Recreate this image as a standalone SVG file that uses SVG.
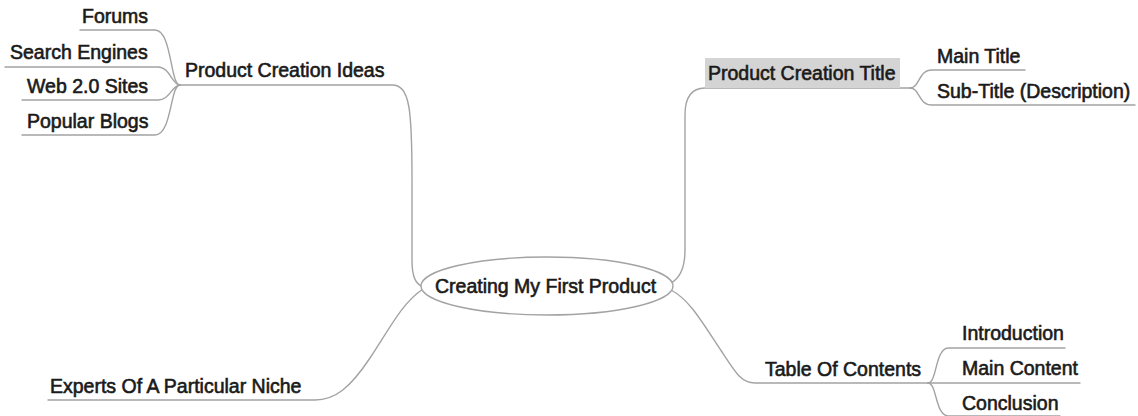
<svg xmlns="http://www.w3.org/2000/svg" width="1138" height="416" viewBox="0 0 1138 416">
  <style>
    .link { fill: none; stroke: #a3a3a3; stroke-width: 1.4; stroke-linecap: round; }
    .label { font-family: "Liberation Sans", Arial, sans-serif; font-size: 19.5px; fill: #1a1a1a; stroke: #1a1a1a; stroke-width: 0.6; }
  </style>
  <rect width="1138" height="416" fill="#ffffff"/>

  <!-- connectors -->
  <g id="connectors">
    <!-- Product Creation Ideas and its children -->
    <path class="link" d="M80,30 H155 C172,30 170,85 180,85"/>
    <path class="link" d="M5,67 H158 C170,67 172,85 180,85"/>
    <path class="link" d="M22,100 H158 C170,100 172,85 180,85"/>
    <path class="link" d="M22,135 H155 C172,135 170,85 180,85"/>
    <path class="link" d="M180,85 H392 C410,85 412,110 412,180 L412,260 C412,278 416,284 423,287"/>
    <!-- Product Creation Title and its children -->
    <path class="link" d="M671,283 C680,278 685,268 685,250 L685,115 C685,96 692,88 705,88 H910"/>
    <path class="link" d="M910,88 C920,88 918,70 932,70 H1025"/>
    <path class="link" d="M910,88 C920,88 918,105 932,105 H1135"/>
    <!-- Experts Of A Particular Niche -->
    <path class="link" d="M423,289 C402,303 390,328 370,358 C350,388 335,400 315,400 H48"/>
    <!-- Table Of Contents and its children -->
    <path class="link" d="M671,290 C690,300 702,322 722,352 C737,375 742,383 755,383 H930"/>
    <path class="link" d="M928,383 C937,383 935,349 948,348 H1065"/>
    <path class="link" d="M928,383 H1080"/>
    <path class="link" d="M928,383 C937,383 935,415 948,416 H1060"/>
  </g>

  <!-- central topic -->
  <g id="root">
    <ellipse cx="547" cy="286" rx="126" ry="29" fill="#ffffff" stroke="#a3a3a3" stroke-width="1.4"/>
    <text class="label" x="435" y="293">Creating My First Product</text>
  </g>

  <!-- left branch: Product Creation Ideas -->
  <g id="ideas">
    <text class="label" x="185" y="77">Product Creation Ideas</text>
  </g>
  <g id="forums">
    <text class="label" x="82" y="23">Forums</text>
  </g>
  <g id="search-engines">
    <text class="label" x="10" y="59">Search Engines</text>
  </g>
  <g id="web20">
    <text class="label" x="27" y="93">Web 2.0 Sites</text>
  </g>
  <g id="popular-blogs">
    <text class="label" x="27" y="128">Popular Blogs</text>
  </g>

  <!-- left branch: Experts -->
  <g id="experts">
    <text class="label" x="50" y="393">Experts Of A Particular Niche</text>
  </g>

  <!-- right branch: Product Creation Title -->
  <g id="title">
    <rect x="705" y="58" width="195" height="30" fill="#d4d4d4"/>
    <text class="label" x="708" y="80">Product Creation Title</text>
  </g>
  <g id="main-title">
    <text class="label" x="937" y="63">Main Title</text>
  </g>
  <g id="sub-title">
    <text class="label" x="937" y="98">Sub-Title (Description)</text>
  </g>

  <!-- right branch: Table Of Contents -->
  <g id="toc">
    <text class="label" x="765" y="376">Table Of Contents</text>
  </g>
  <g id="introduction">
    <text class="label" x="962" y="340">Introduction</text>
  </g>
  <g id="main-content">
    <text class="label" x="962" y="375">Main Content</text>
  </g>
  <g id="conclusion">
    <text class="label" x="962" y="410">Conclusion</text>
  </g>
</svg>
